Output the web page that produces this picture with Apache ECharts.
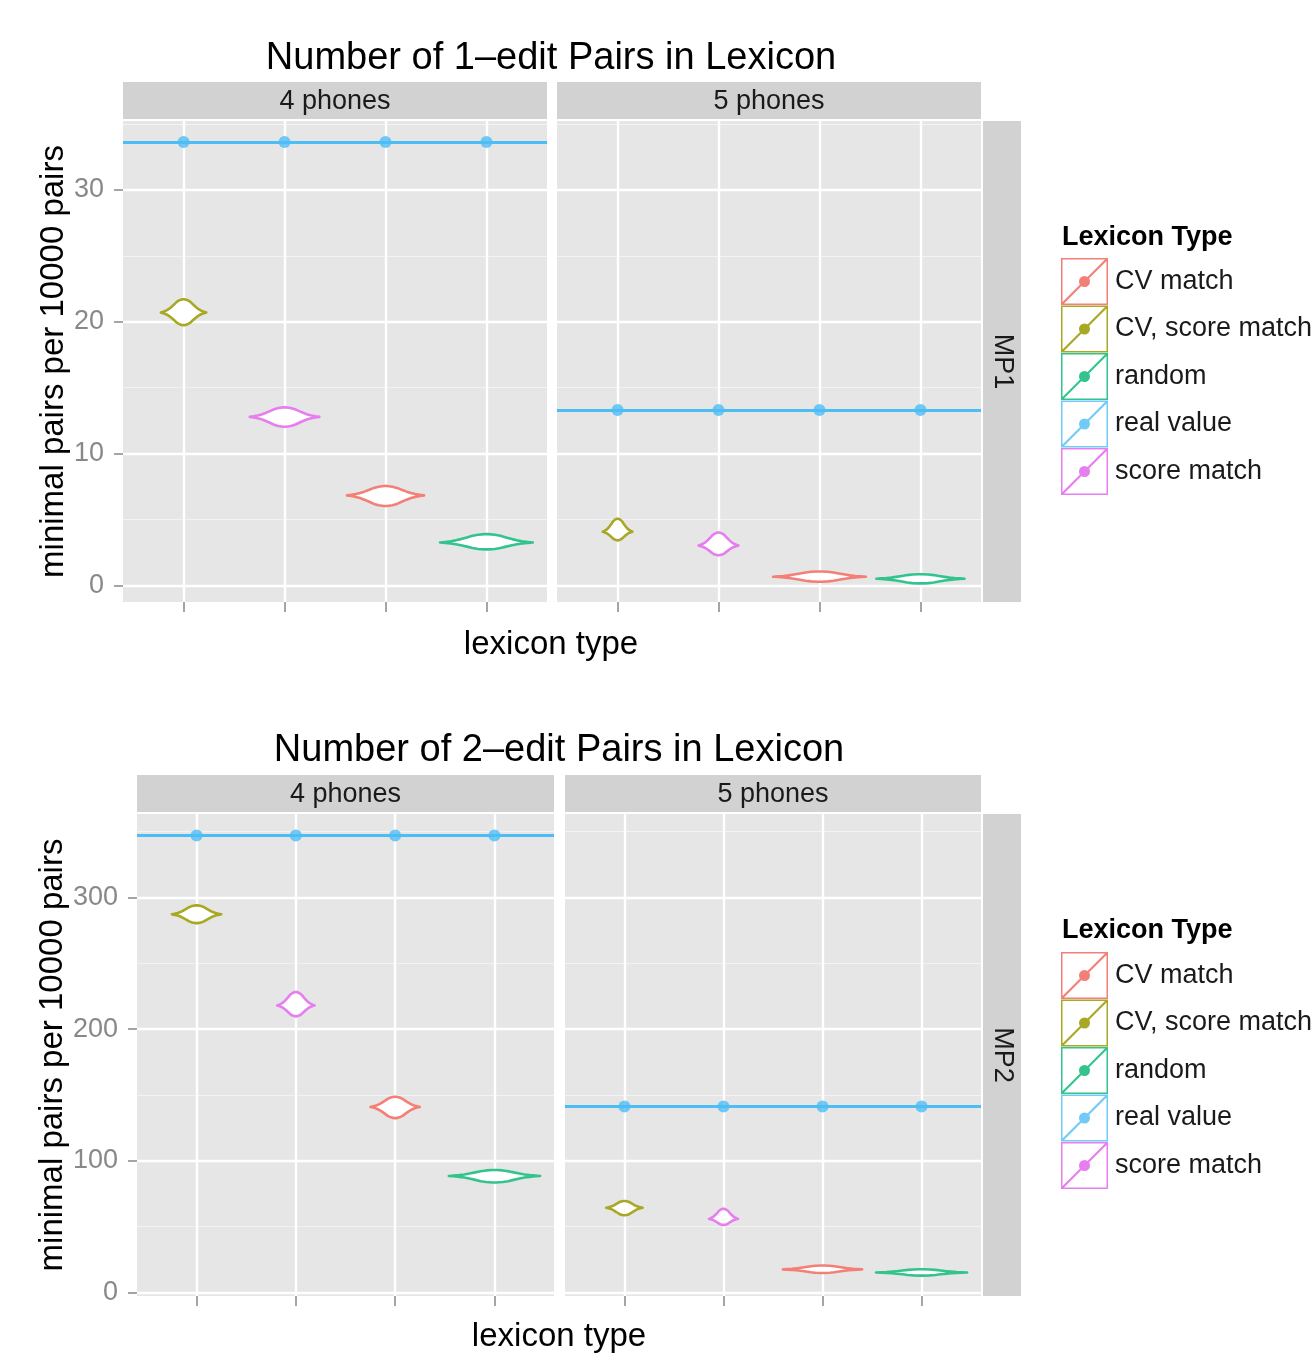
<!DOCTYPE html>
<html><head><meta charset="utf-8">
<script src="https://cdn.jsdelivr.net/npm/echarts@6/dist/echarts.min.js"></script>
<style>html,body{margin:0;padding:0;background:#fff}#c{width:1313px;height:1353px}</style>
</head><body><div id="c"></div>
<script>
// ---------------- data ----------------
const lexiconTypes = ['CV match', 'CV, score match', 'random', 'real value', 'score match'];
const xOrder = ['CV, score match', 'score match', 'CV match', 'random']; // x positions 1..4
const xPositions = [1, 2, 3, 4];
const phoneFacets = ['4 phones', '5 phones'];
const measureFacets = ['MP1', 'MP2'];
const chartTitles = ['Number of 1\u2013edit Pairs in Lexicon', 'Number of 2\u2013edit Pairs in Lexicon'];
const xAxisTitle = 'lexicon type';
const yAxisTitle = 'minimal pairs per 10000 pairs';
const legendTitle = 'Lexicon Type';

// MP1 (1-edit), violins in xOrder
const mp1Phones4Center  = [20.7, 12.78, 6.82, 3.25];
const mp1Phones4Low     = [19.74, 12.03, 6.01, 2.72];
const mp1Phones4High    = [21.7, 13.5, 7.53, 3.88];
const mp1Phones4Density = [0.49, 0.75, 0.83, 1.0];
const mp1Phones5Center  = [4.06, 3.01, 0.65, 0.5];
const mp1Phones5Low     = [3.41, 2.28, 0.27, 0.14];
const mp1Phones5High    = [5.05, 4.0, 1.05, 0.84];
const mp1Phones5Density = [0.32, 0.43, 1.0, 0.95];
const mp1RealValue      = [33.63, 13.3];   // 4 phones, 5 phones

// MP2 (2-edit)
const mp2Phones4Center  = [287.2, 218.0, 140.9, 88.5];
const mp2Phones4Low     = [280.5, 209.7, 132.4, 83.5];
const mp2Phones4High    = [294.0, 228.2, 148.6, 93.0];
const mp2Phones4Density = [0.54, 0.41, 0.54, 1.0];
const mp2Phones5Center  = [64.3, 55.9, 17.5, 15.2];
const mp2Phones5Low     = [58.6, 51.3, 14.8, 12.8];
const mp2Phones5High    = [69.5, 63.6, 20.5, 17.6];
const mp2Phones5Density = [0.40, 0.32, 0.87, 1.0];
const mp2RealValue      = [347, 141.3];

// relative violin outline (t: -1 = low end, +1 = high end; w: relative half width)
const violinProfileT = [-1, -0.93, -0.8, -0.6, -0.4, -0.25, -0.14, -0.06, 0, 0.06, 0.14, 0.25, 0.4, 0.6, 0.8, 0.93, 1];
const violinProfileW = [0.04, 0.18, 0.3, 0.42, 0.55, 0.66, 0.77, 0.89, 1, 0.89, 0.77, 0.66, 0.55, 0.42, 0.3, 0.18, 0.04];

const mp1YTicks = [0, 10, 20, 30];
const mp1YMinor = [5, 15, 25, 35];
const mp1YRange = [-1.27, 35.23];
const mp2YTicks = [0, 100, 200, 300];
const mp2YMinor = [50, 150, 250, 350];
const mp2YRange = [-2.7, 363.4];
const xRange = [0.4, 4.6];

// ---------------- styles / layout ----------------
const typeColors = {
  'CV match': '#F47F77', 'CV, score match': '#A8A824', 'random': '#33C48E',
  'real value': '#4DBDF5', 'score match': '#E77EF0'
};
const FONT = "'Liberation Sans', Arial, Helvetica, sans-serif";
const PANEL_BG = '#E6E6E6';
const STRIP_BG = '#D2D2D2';
const TICK_COL = '#888888';

const panels = [
  { grid: { left: 123, top: 121, width: 424, height: 481 }, chart: 0, facet: 0,
    center: mp1Phones4Center, low: mp1Phones4Low, high: mp1Phones4High, dens: mp1Phones4Density, real: mp1RealValue[0],
    range: mp1YRange, ticks: mp1YTicks, minor: mp1YMinor, showY: true, nameGap: 50 },
  { grid: { left: 557, top: 121, width: 424, height: 481 }, chart: 0, facet: 1,
    center: mp1Phones5Center, low: mp1Phones5Low, high: mp1Phones5High, dens: mp1Phones5Density, real: mp1RealValue[1],
    range: mp1YRange, ticks: mp1YTicks, minor: mp1YMinor, showY: false },
  { grid: { left: 137, top: 814, width: 417, height: 482 }, chart: 1, facet: 0,
    center: mp2Phones4Center, low: mp2Phones4Low, high: mp2Phones4High, dens: mp2Phones4Density, real: mp2RealValue[0],
    range: mp2YRange, ticks: mp2YTicks, minor: mp2YMinor, showY: true, nameGap: 64 },
  { grid: { left: 565, top: 814, width: 416, height: 482 }, chart: 1, facet: 1,
    center: mp2Phones5Center, low: mp2Phones5Low, high: mp2Phones5High, dens: mp2Phones5Density, real: mp2RealValue[1],
    range: mp2YRange, ticks: mp2YTicks, minor: mp2YMinor, showY: false }
];
const chartLayout = [
  { titleX: 551, titleY: 59, stripY: 82, stripH: 37, axisTitleY: 645, legendTitleY: 238, legendTop: 258, sideTop: 121, sideH: 481 },
  { titleX: 559, titleY: 751, stripY: 775, stripH: 37, axisTitleY: 1337, legendTitleY: 931, legendTop: 952, sideTop: 814, sideH: 482 }
];

function violinRenderItem(params, api) {
  const x = api.value(0), c = api.value(1), lo = api.value(2), hi = api.value(3), d = api.value(4);
  const halfW = d * 0.46;
  const right = [], left = [];
  for (let i = 0; i < violinProfileT.length; i++) {
    const t = violinProfileT[i];
    const y = t < 0 ? c + t * (c - lo) : c + t * (hi - c);
    const w = halfW * violinProfileW[i];
    right.push(api.coord([x + w, y]));
    left.unshift(api.coord([x - w, y]));
  }
  return {
    type: 'polygon',
    shape: { points: right.concat(left) },
    style: { fill: '#ffffff', stroke: api.visual('color'), lineWidth: 2.6, lineJoin: 'round' }
  };
}

const grids = [], xAxes = [], yAxes = [], series = [], graphics = [];

panels.forEach((p, gi) => {
  grids.push(Object.assign({ show: true, backgroundColor: PANEL_BG, borderWidth: 0 }, p.grid));
  xAxes.push({
    type: 'value', gridIndex: gi, min: xRange[0], max: xRange[1], position: 'bottom',
    axisLine: { show: false, onZero: false },
    axisTick: { show: true, customValues: xPositions, length: 10, lineStyle: { color: TICK_COL, width: 1.5 } },
    axisLabel: { show: false, customValues: xPositions },
    splitLine: { show: false }
  });
  yAxes.push({
    type: 'value', gridIndex: gi, min: p.range[0], max: p.range[1],
    axisLine: { show: false, onZero: false },
    axisTick: { show: p.showY, customValues: p.ticks, length: 9, lineStyle: { color: TICK_COL, width: 1.5 } },
    axisLabel: { show: p.showY, customValues: p.ticks, color: TICK_COL, fontSize: 27, margin: 19, fontFamily: FONT },
    splitLine: { show: false },
    name: p.showY ? yAxisTitle : '', nameLocation: 'middle', nameRotate: 90, nameGap: p.nameGap || 0,
    nameTextStyle: { fontSize: 33, color: '#000', fontFamily: FONT }
  });
  // panel grid lines
  const lines = [];
  p.minor.forEach(v => lines.push({ yAxis: v, lineStyle: { color: '#F3F3F3', width: 1.2 } }));
  p.ticks.forEach(v => lines.push({ yAxis: v, lineStyle: { color: '#FFFFFF', width: 2.4 } }));
  xPositions.forEach(v => lines.push({ xAxis: v, lineStyle: { color: '#FFFFFF', width: 2.4 } }));
  series.push({
    name: '_grid', type: 'scatter', xAxisIndex: gi, yAxisIndex: gi, data: [], silent: true,
    markLine: { silent: true, symbol: ['none', 'none'], label: { show: false }, animation: false, z: 1,
      lineStyle: { type: 'solid' }, emphasis: { disabled: true }, data: lines }
  });
  // violins
  xOrder.forEach((name, k) => {
    series.push({
      name: name, type: 'custom', xAxisIndex: gi, yAxisIndex: gi, z: 3,
      itemStyle: { color: typeColors[name] },
      renderItem: violinRenderItem,
      encode: { x: 0, y: 1 },
      data: [[xPositions[k], p.center[k], p.low[k], p.high[k], p.dens[k]]]
    });
  });
  // real value
  series.push({
    name: 'real value', type: 'scatter', xAxisIndex: gi, yAxisIndex: gi, z: 4,
    symbol: 'circle', symbolSize: 12,
    itemStyle: { color: typeColors['real value'] },
    data: xPositions.map(x => [x, p.real]),
    markLine: { silent: true, symbol: ['none', 'none'], label: { show: false }, animation: false, z: 2,
      lineStyle: { type: 'solid', color: typeColors['real value'], width: 2.8 }, data: [{ yAxis: p.real }] }
  });
  // top strip
  const L = chartLayout[p.chart];
  graphics.push({ type: 'rect', shape: { x: p.grid.left, y: L.stripY, width: p.grid.width, height: L.stripH }, style: { fill: STRIP_BG }, silent: true });
  graphics.push({ type: 'text', x: p.grid.left + p.grid.width / 2, y: L.stripY + L.stripH / 2 + 1,
    style: { text: phoneFacets[p.facet], font: '27px ' + FONT, fill: '#1A1A1A', textAlign: 'center', textVerticalAlign: 'middle' }, silent: true });
});

chartLayout.forEach((L, ci) => {
  graphics.push({ type: 'text', x: L.titleX, y: L.titleY,
    style: { text: chartTitles[ci], font: '38px ' + FONT, fill: '#000', textAlign: 'center', textVerticalAlign: 'middle' }, silent: true });
  graphics.push({ type: 'text', x: L.titleX, y: L.axisTitleY,
    style: { text: xAxisTitle, font: '33px ' + FONT, fill: '#000', textAlign: 'center', textVerticalAlign: 'middle' }, silent: true });
  graphics.push({ type: 'rect', shape: { x: 983, y: L.sideTop, width: 38, height: L.sideH }, style: { fill: STRIP_BG }, silent: true });
  graphics.push({ type: 'text', x: 1002, y: L.sideTop + L.sideH / 2, rotation: -Math.PI / 2,
    style: { text: measureFacets[ci], font: '27px ' + FONT, fill: '#1A1A1A', textAlign: 'center', textVerticalAlign: 'middle' }, silent: true });
  graphics.push({ type: 'text', x: 1062, y: L.legendTitleY,
    style: { text: legendTitle, font: 'bold 27px ' + FONT, fill: '#000', textAlign: 'left', textVerticalAlign: 'middle' }, silent: true });
});

const keyIcon = 'path://M0 0H47V47H0Z M1.5 1.5V45.5H45.5V1.5Z M0 45.5L45.5 0L47 1.5L1.5 47Z M29 23.5A5.5 5.5 0 1 1 18 23.5A5.5 5.5 0 1 1 29 23.5Z';
const legends = chartLayout.map(L => ({
  data: lexiconTypes, orient: 'vertical', left: 1061, top: L.legendTop, padding: 0,
  itemWidth: 47, itemHeight: 47, itemGap: 0.5, icon: keyIcon, selectedMode: false,
  itemStyle: { borderWidth: 0 },
  textStyle: { fontSize: 27, color: '#1A1A1A', fontFamily: FONT, padding: [0, 0, 0, 2] }
}));

const chart = echarts.init(document.getElementById('c'), null, { renderer: 'canvas' });
chart.setOption({
  animation: false,
  backgroundColor: '#ffffff',
  textStyle: { fontFamily: FONT },
  grid: grids, xAxis: xAxes, yAxis: yAxes,
  legend: legends,
  series: series,
  graphic: graphics
});
</script></body></html>
